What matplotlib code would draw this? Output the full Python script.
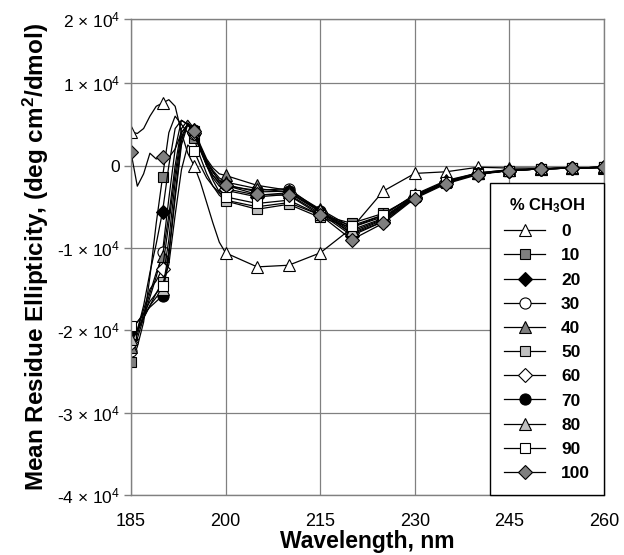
import matplotlib
matplotlib.use("Agg")
import matplotlib.pyplot as plt
import numpy as np

plt.rcParams['font.family'] = ['Liberation Sans', 'DejaVu Sans']
plt.rcParams['mathtext.fontset'] = 'custom'
plt.rcParams['mathtext.rm'] = 'Liberation Sans'
plt.rcParams['mathtext.it'] = 'Liberation Sans:italic'
plt.rcParams['mathtext.bf'] = 'Liberation Sans:bold'

# wavelengths (nm)
wavelength = [185, 186, 187, 188, 189, 190, 191, 192, 193, 194, 195, 196, 197, 198, 199, 200,
              205, 210, 215, 220, 225, 230, 235, 240, 245, 250, 255, 260]

# mean residue ellipticity (deg cm2/dmol) for each % CH3OH
meoh_0 = [4100, 3900, 4500, 6000, 7200, 7600, 8000, 7200, 4000, 1500, 0, -2000, -4500, -7000, -9300, -10600,
          -12300, -12100, -10600, -7600, -3100, -950, -750, -200, -300, -300, -300, -300]
meoh_10 = [-23900, -22000, -19000, -13500, -7000, -1400, 4000, 6000, 5000, 4000, 3300, 1000, -1000, -2500, -3600, -4200,
           -5000, -4500, -6000, -7000, -5800, -3700, -2000, -900, -600, -400, -300, -200]
meoh_20 = [-21000, -20000, -17000, -13000, -9500, -5600, 0, 4500, 5500, 5000, 4000, 2000, 0, -1500, -2500, -3000,
           -3800, -3500, -5800, -8500, -6800, -3900, -2000, -1000, -600, -400, -300, -200]
meoh_30 = [-22500, -21000, -18500, -16000, -13500, -10500, -4000, 2000, 5500, 5000, 3800, 1800, 0, -1200, -2000, -2500,
           -3000, -2800, -5500, -8000, -6500, -3700, -2000, -1000, -600, -400, -300, -200]
meoh_40 = [-22000, -20500, -18000, -15500, -13000, -11000, -6000, 0, 4500, 5500, 4500, 2500, 800, -300, -1000, -1200,
           -2400, -3000, -5300, -7500, -6000, -3500, -1800, -900, -500, -400, -300, -200]
meoh_50 = [-20500, -20000, -18500, -17000, -15500, -14100, -9000, -2000, 3500, 5000, 4200, 2000, 0, -1800, -3200, -4300,
           -5300, -4700, -6300, -7500, -6200, -3800, -2100, -1000, -600, -400, -300, -200]
meoh_60 = [-21500, -20000, -17500, -15000, -14000, -12500, -7000, -1000, 4000, 5000, 4000, 2000, 300, -1200, -2200, -2800,
           -3600, -3300, -5600, -8200, -6600, -3800, -2000, -1000, -600, -400, -300, -200]
meoh_70 = [-20000, -19000, -18000, -17200, -16500, -15800, -11000, -4000, 2500, 5000, 4300, 2200, 500, -800, -1800, -2300,
           -3200, -3100, -5600, -8300, -6800, -3900, -2100, -1000, -600, -400, -300, -200]
meoh_80 = [-21000, -20000, -18500, -17000, -16000, -15000, -10500, -3500, 3000, 5200, 4400, 2300, 600, -600, -1500, -2000,
           -2800, -3200, -5400, -7800, -6400, -3600, -1900, -900, -500, -400, -300, -200]
meoh_90 = [-19500, -19000, -18000, -16500, -15500, -14600, -12000, -6000, -500, 2500, 1800, 0, -1500, -2500, -3300, -3800,
           -4600, -4200, -6000, -7300, -6000, -3600, -2000, -1000, -600, -400, -300, -200]
meoh_100 = [1600, -2500, -1000, 1500, 800, 1100, 1000, 2000, 4000, 5000, 4200, 2200, 500, -800, -1800, -2400,
            -3500, -3600, -6000, -9000, -7000, -4000, -2200, -1100, -600, -400, -300, -200]

labels = ['0', '10', '20', '30', '40', '50', '60', '70', '80', '90', '100']
series = [meoh_0, meoh_10, meoh_20, meoh_30, meoh_40, meoh_50, meoh_60, meoh_70, meoh_80, meoh_90, meoh_100]
markers = ['^', 's', 'D', 'o', '^', 's', 'D', 'o', '^', 's', 'D']
facecolors = ['white', '#7f7f7f', 'black', 'white', '#7f7f7f', '#bfbfbf', 'white', 'black', '#bfbfbf', 'white', '#7f7f7f']
msizes = [9, 7, 7, 8, 9, 7, 7, 8, 9, 7, 7]

xticks = [185, 200, 215, 230, 245, 260]
ytick_vals = [-40000, -30000, -20000, -10000, 0, 10000]
ytick_labels = ['-4 × 10$^\\mathregular{4}$', '-3 × 10$^\\mathregular{4}$', '-2 × 10$^\\mathregular{4}$',
                '-1 × 10$^\\mathregular{4}$', '0', '1 × 10$^\\mathregular{4}$']
top_label = '2 × 10$^\\mathregular{4}$'

fig = plt.figure(figsize=(6.24, 5.55), dpi=100)
ax = fig.add_axes([131/624, 1-495/555, (604-131)/624, (495-19)/555])

x = np.array(wavelength)
mark_idx = [i for i, w in enumerate(wavelength) if w % 5 == 0]
for lab, y, m, fc, ms in zip(labels, series, markers, facecolors, msizes):
    ax.plot(x, y, color='black', lw=0.9, marker=m, markevery=mark_idx,
            markerfacecolor=fc, markeredgecolor='black', markeredgewidth=0.8,
            markersize=ms, label=lab)

ymax = 17800
ax.set_xlim(185, 260)
ax.set_ylim(-40000, ymax)
ax.set_xticks(xticks)
ax.set_xticklabels([str(t) for t in xticks], fontsize=13)
ax.set_yticks(ytick_vals + [ymax])
ax.set_yticklabels(ytick_labels + [top_label], fontsize=12.5)
ax.tick_params(axis='x', length=0, pad=13)
ax.tick_params(axis='y', length=5, width=1, color='#808080', pad=3)
ax.grid(True, color='#808080', lw=0.9)
ax.set_axisbelow(True)
for s in ax.spines.values():
    s.set_color('#808080')
    s.set_linewidth(1.0)

ax.set_xlabel('Wavelength, nm', fontsize=16.5, fontweight='bold', labelpad=0)
ax.set_ylabel('Mean Residue Ellipticity, (deg cm$^\\mathregular{2}$/dmol)', fontsize=17.5,
              fontweight='bold', labelpad=4)

leg = ax.legend(loc='lower right', bbox_to_anchor=(1.0, 0.0), borderaxespad=0,
                title='% CH$_\\mathregular{3}$OH', fancybox=False, framealpha=1,
                edgecolor='black', prop={'weight': 'bold', 'size': 12.5},
                labelspacing=0.52, handlelength=2.4, handletextpad=0.9, borderpad=0.8)
leg.get_title().set_fontweight('bold')
leg.get_title().set_fontsize(12)
leg.get_frame().set_linewidth(1.0)

fig.savefig('out.png', dpi=100)
